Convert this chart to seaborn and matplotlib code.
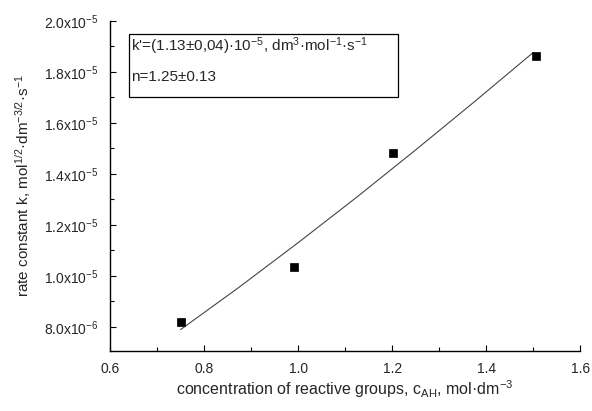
import matplotlib
matplotlib.use("Agg")
import matplotlib.pyplot as plt
import seaborn as sns
import pandas as pd
from matplotlib.ticker import MultipleLocator
from matplotlib.patches import Rectangle
import math

# data
conc = [0.751, 0.991, 1.202, 1.506]
rate = [8.2e-6, 1.035e-5, 1.482e-5, 1.863e-5]
fit_x = [0.75, 0.875, 1.0, 1.125, 1.25, 1.375, 1.5]
fit_y = [7.89e-6, 9.56e-6, 1.13e-5, 1.309e-5, 1.494e-5, 1.683e-5, 1.876e-5]
xticks = [0.6, 0.8, 1.0, 1.2, 1.4, 1.6]
yticks = [8.0e-6, 1.0e-5, 1.2e-5, 1.4e-5, 1.6e-5, 1.8e-5, 2.0e-5]

sns.set_style("ticks")
plt.rcParams['font.family'] = ['Liberation Sans', 'DejaVu Sans']
plt.rcParams['mathtext.fontset'] = 'custom'
plt.rcParams['mathtext.rm'] = 'Liberation Sans'
plt.rcParams['mathtext.it'] = 'Liberation Sans'

fig = plt.figure(figsize=(5.92, 4.11), dpi=100)
ax = fig.add_axes([0.186, 0.146, 0.794, 0.803])

pts = pd.DataFrame({"c": conc, "k": rate})
fit = pd.DataFrame({"c": fit_x, "k": fit_y})
sns.lineplot(data=fit, x="c", y="k", ax=ax, color="#444444", linewidth=0.8)
sns.scatterplot(data=pts, x="c", y="k", ax=ax, marker="s", s=32, color="black",
                edgecolor="black", linewidth=0.5, zorder=5)

ax.set_xlim(0.6, 1.6)
ax.set_ylim(7.05e-6, 2.0e-5)
ax.set_xticks(xticks)
ax.set_yticks(yticks)
ax.xaxis.set_minor_locator(MultipleLocator(0.1))
ax.yaxis.set_minor_locator(MultipleLocator(1e-6))
ax.set_xticklabels([f"{v:.1f}" for v in xticks])

def yfmt(v):
    e = int(math.floor(math.log10(v) + 1e-9))
    m = v / 10**e
    return r"$\mathregular{%.1fx10^{%d}}$" % (m, e)
ax.set_yticklabels([yfmt(v) for v in yticks])

ax.tick_params(which="major", direction="in", length=4, width=0.8, labelsize=10, pad=8, color="black")
ax.tick_params(which="minor", direction="in", length=3, width=0.8, color="black")
for s in ["top", "right"]:
    ax.spines[s].set_visible(False)
for s in ["left", "bottom"]:
    ax.spines[s].set_linewidth(1.0)
    ax.spines[s].set_color("black")

ax.set_xlabel(r"concentration of reactive groups, c$_{\mathregular{AH}}$, mol·dm$^{\mathregular{-3}}$",
              fontsize=11.5, labelpad=1.5)
ax.set_ylabel(r"rate constant k, mol$^{\mathregular{1/2}}$·dm$^{\mathregular{-3/2}}$·s$^{\mathregular{-1}}$",
              fontsize=11, labelpad=8)

# annotation box
box = Rectangle((0.04, 0.770), 0.572, 0.191, transform=ax.transAxes, fill=False,
                edgecolor="black", linewidth=0.9)
ax.add_patch(box)
ax.text(0.045, 0.924, r"k'=(1.13±0,04)·10$^{\mathregular{-5}}$, dm$^{\mathregular{3}}$·mol$^{\mathregular{-1}}$·s$^{\mathregular{-1}}$",
        transform=ax.transAxes, fontsize=11, va="center", ha="left")
ax.text(0.045, 0.830, "n=1.25±0.13", transform=ax.transAxes, fontsize=11, va="center", ha="left")

fig.savefig("out.png", dpi=100)
